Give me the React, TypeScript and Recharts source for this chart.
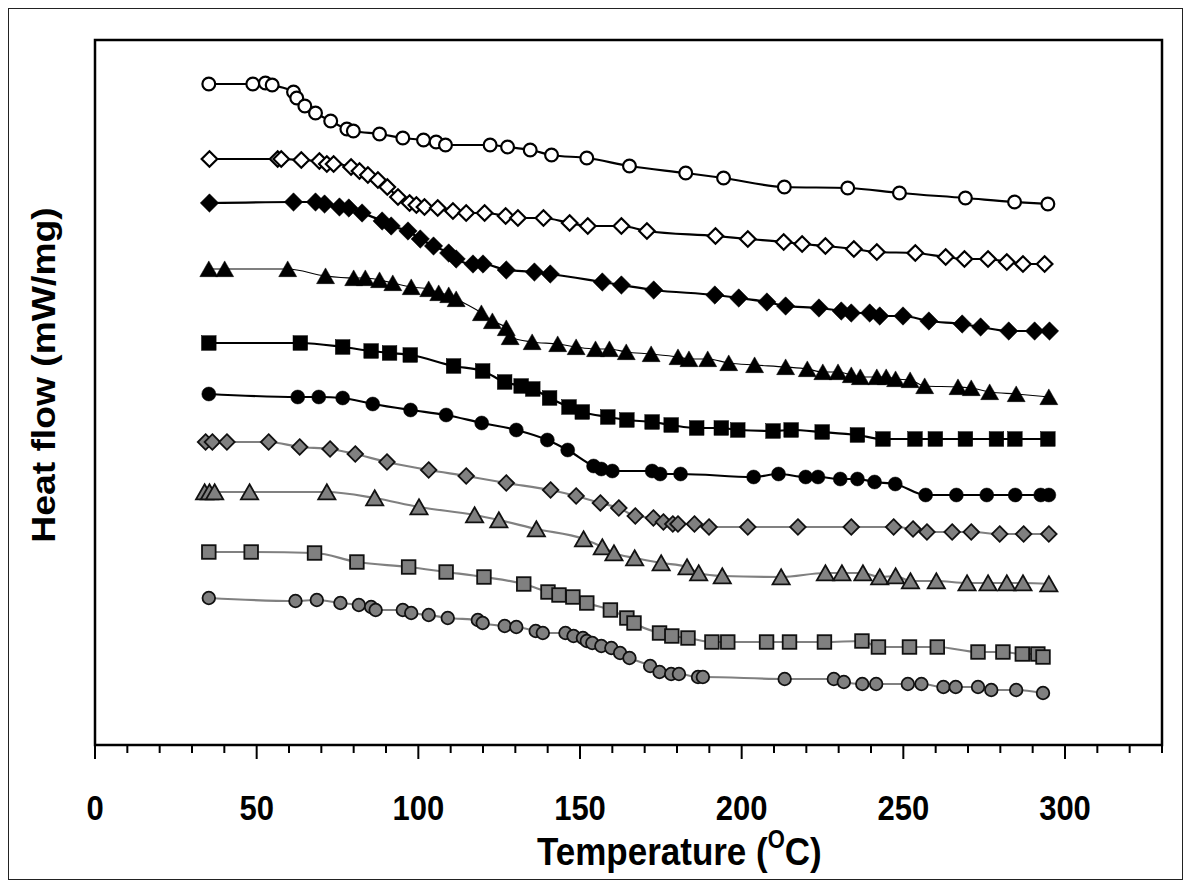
import React from 'react';
import { LineChart, Line, XAxis, YAxis, ReferenceArea } from 'recharts';

// temperature (°C), heat flow (mW/mg, arbitrary offset scale)
const openCircles = [
	[35.2, 6.61], [48.8, 6.61], [52.7, 6.62], [54.8, 6.6], [61.4, 6.53], [62.4, 6.47], [64.9, 6.39],
	[68.2, 6.32], [72.9, 6.24], [77.9, 6.16], [79.9, 6.14], [88.0, 6.11], [95.2, 6.07], [101.6, 6.05],
	[105.5, 6.03], [108.4, 6.0], [122.2, 6.0], [127.6, 5.98], [134.6, 5.95], [141.2, 5.9], [152.1, 5.87],
	[165.3, 5.79], [182.7, 5.72], [194.4, 5.67], [213.2, 5.58], [232.8, 5.57], [248.8, 5.52], [269.2, 5.47],
	[284.4, 5.43], [294.7, 5.41],
];
const openDiamonds = [
	[35.4, 5.86], [56.5, 5.86], [57.6, 5.86], [63.8, 5.85], [69.4, 5.84], [71.7, 5.81], [73.8, 5.81],
	[79.2, 5.78], [81.8, 5.74], [84.4, 5.7], [87.5, 5.65], [90.4, 5.58], [93.7, 5.48], [97.3, 5.42],
	[99.4, 5.4], [101.9, 5.38], [106.0, 5.37], [110.7, 5.34], [114.8, 5.32], [120.5, 5.32], [127.0, 5.29],
	[130.8, 5.27], [138.7, 5.27], [146.8, 5.22], [152.4, 5.19], [162.8, 5.19], [170.7, 5.14], [191.9, 5.09],
	[201.9, 5.06], [213.0, 5.03], [218.7, 5.01], [225.9, 4.99], [234.7, 4.96], [241.8, 4.93], [253.7, 4.92],
	[263.1, 4.88], [268.9, 4.86], [276.2, 4.86], [282.0, 4.83], [287.0, 4.81], [293.7, 4.81],
];
const solidDiamonds = [
	[35.4, 5.42], [61.4, 5.43], [68.2, 5.43], [71.0, 5.41], [75.6, 5.38], [78.5, 5.37], [82.6, 5.32],
	[88.8, 5.24], [91.6, 5.19], [96.8, 5.14], [100.6, 5.06], [104.7, 4.99], [109.4, 4.92], [111.7, 4.86],
	[116.9, 4.81], [120.0, 4.81], [127.2, 4.75], [135.9, 4.73], [140.8, 4.71], [156.9, 4.63], [162.8, 4.6],
	[172.8, 4.55], [191.7, 4.5], [199.1, 4.47], [207.8, 4.43], [213.6, 4.39], [223.9, 4.37], [230.8, 4.34],
	[233.9, 4.32], [239.6, 4.32], [242.7, 4.29], [249.9, 4.29], [257.9, 4.24], [268.2, 4.21], [273.9, 4.18],
	[282.6, 4.14], [290.6, 4.14], [295.2, 4.14],
];
const solidTriangles = [
	[35.2, 4.76], [40.1, 4.76], [59.6, 4.76], [71.3, 4.69], [80.0, 4.67], [83.6, 4.67], [88.0, 4.65],
	[92.1, 4.62], [97.8, 4.58], [103.2, 4.56], [106.3, 4.52], [109.4, 4.5], [111.7, 4.46], [119.5, 4.32],
	[122.9, 4.24], [127.2, 4.17], [128.4, 4.08], [135.2, 4.03], [143.1, 4.01], [148.8, 3.98], [154.8, 3.96],
	[159.1, 3.96], [164.3, 3.93], [172.0, 3.91], [180.3, 3.88], [183.7, 3.86], [189.5, 3.86], [196.0, 3.82],
	[204.0, 3.8], [213.6, 3.78], [220.3, 3.76], [225.1, 3.73], [229.8, 3.73], [233.9, 3.7], [236.7, 3.68],
	[241.8, 3.68], [244.7, 3.68], [247.6, 3.66], [252.1, 3.65], [256.6, 3.59], [266.9, 3.58], [271.0, 3.57],
	[276.7, 3.53], [284.9, 3.51], [295.0, 3.48],
];
const solidSquares = [
	[35.2, 4.02], [63.5, 4.02], [76.6, 3.98], [85.4, 3.94], [91.1, 3.92], [97.5, 3.9], [110.9, 3.79],
	[119.9, 3.74], [126.7, 3.63], [131.8, 3.59], [135.4, 3.56], [140.6, 3.47], [146.6, 3.38], [150.7, 3.33],
	[158.6, 3.28], [164.5, 3.25], [172.3, 3.23], [178.2, 3.2], [186.1, 3.17], [193.7, 3.17], [198.8, 3.15],
	[209.7, 3.14], [215.3, 3.15], [224.9, 3.13], [235.8, 3.1], [243.7, 3.06], [253.6, 3.06], [259.9, 3.06],
	[269.2, 3.06], [278.8, 3.06], [284.5, 3.06], [294.7, 3.06],
];
const solidCircles = [
	[35.2, 3.51], [62.7, 3.48], [69.2, 3.48], [76.6, 3.47], [85.9, 3.41], [97.6, 3.35], [108.6, 3.3],
	[119.6, 3.22], [130.3, 3.15], [139.9, 3.05], [146.2, 2.95], [154.2, 2.79], [156.6, 2.76], [160.0, 2.74],
	[172.3, 2.74], [174.8, 2.71], [181.1, 2.71], [203.7, 2.68], [211.4, 2.71], [219.8, 2.68], [223.6, 2.68],
	[230.5, 2.66], [235.8, 2.66], [241.1, 2.63], [247.5, 2.61], [256.9, 2.5], [266.4, 2.5], [275.8, 2.5],
	[284.6, 2.5], [292.5, 2.5], [295.0, 2.5],
];
const greyDiamonds = [
	[34.2, 3.03], [36.3, 3.03], [40.8, 3.03], [53.7, 3.03], [63.3, 2.98], [72.7, 2.96], [80.5, 2.91],
	[90.3, 2.83], [103.2, 2.75], [114.8, 2.69], [127.2, 2.62], [140.9, 2.55], [148.8, 2.49], [156.3, 2.42],
	[162.0, 2.37], [167.1, 2.29], [172.7, 2.27], [175.8, 2.23], [178.7, 2.21], [180.3, 2.21], [185.4, 2.21],
	[189.9, 2.18], [201.9, 2.18], [217.4, 2.18], [233.9, 2.18], [247.0, 2.18], [253.0, 2.16], [257.3, 2.13],
	[265.1, 2.13], [271.0, 2.13], [279.8, 2.11], [287.2, 2.11], [295.0, 2.11],
];
const greyTriangles = [
	[33.9, 2.53], [35.4, 2.53], [37.0, 2.53], [47.8, 2.53], [71.7, 2.53], [86.5, 2.47], [100.2, 2.38],
	[117.4, 2.3], [124.9, 2.25], [136.5, 2.16], [151.1, 2.06], [156.9, 1.98], [160.5, 1.92], [166.9, 1.87],
	[175.1, 1.82], [183.1, 1.78], [186.7, 1.72], [194.0, 1.69], [212.2, 1.68], [225.9, 1.72], [231.0, 1.72],
	[237.5, 1.72], [242.7, 1.68], [247.6, 1.69], [252.2, 1.64], [260.2, 1.64], [269.7, 1.62], [276.2, 1.62],
	[282.0, 1.62], [287.0, 1.62], [295.0, 1.61],
];
const greySquares = [
	[35.2, 1.93], [48.3, 1.93], [67.9, 1.92], [81.0, 1.83], [97.0, 1.78], [108.6, 1.73], [120.3, 1.68],
	[132.6, 1.61], [140.1, 1.53], [143.5, 1.5], [147.8, 1.48], [152.1, 1.42], [159.4, 1.35], [164.5, 1.27],
	[166.7, 1.22], [174.6, 1.12], [178.4, 1.09], [183.4, 1.07], [190.8, 1.03], [195.7, 1.03], [207.7, 1.03],
	[214.8, 1.03], [225.6, 1.03], [237.2, 1.04], [242.3, 0.98], [251.9, 0.98], [260.5, 0.98], [273.1, 0.93],
	[280.8, 0.93], [286.8, 0.91], [291.6, 0.91], [293.2, 0.88],
];
const greyCircles = [
	[35.2, 1.47], [62.0, 1.44], [68.6, 1.45], [75.9, 1.42], [81.6, 1.4], [85.4, 1.38], [86.8, 1.35],
	[95.2, 1.35], [97.8, 1.32], [103.2, 1.3], [109.1, 1.27], [118.4, 1.25], [119.9, 1.22], [126.7, 1.19],
	[130.3, 1.18], [136.3, 1.14], [138.5, 1.12], [145.5, 1.12], [148.0, 1.09], [150.9, 1.07], [152.1, 1.04],
	[153.8, 1.02], [156.6, 0.99], [159.7, 0.97], [162.4, 0.92], [165.3, 0.87], [171.7, 0.79], [174.6, 0.73],
	[178.2, 0.71], [180.6, 0.71], [186.5, 0.68], [188.0, 0.68], [213.3, 0.66], [228.5, 0.66], [231.6, 0.63],
	[237.3, 0.61], [241.6, 0.61], [251.4, 0.61], [255.6, 0.61], [262.4, 0.58], [266.2, 0.58], [273.1, 0.58],
	[277.2, 0.55], [284.9, 0.55], [293.2, 0.52],
];

const xTicks = [0, 10, 20, 30, 40, 50, 60, 70, 80, 90, 100, 110, 120, 130, 140, 150, 160, 170, 180, 190,
	200, 210, 220, 230, 240, 250, 260, 270, 280, 290, 300, 310, 320, 330];
const xLabels = [0, 50, 100, 150, 200, 250, 300];

const FONT = '"Liberation Sans", Arial, Helvetica, sans-serif';
const GREY = '#808080';

type Mark = {
	id: string;
	shape: 'circle' | 'square' | 'diamond' | 'triangle';
	size: number;
	fill: string;
	stroke: string;
	sw: number;
};

const series: { id: string; pts: number[][]; line: string; lw: number; mark: Mark }[] = [
	{ id: 'oc', pts: openCircles, line: '#000', lw: 2.2, mark: { id: 'oc', shape: 'circle', size: 6.4, fill: '#fff', stroke: '#000', sw: 2.2 } },
	{ id: 'od', pts: openDiamonds, line: '#000', lw: 2.2, mark: { id: 'od', shape: 'diamond', size: 7.8, fill: '#fff', stroke: '#000', sw: 2.2 } },
	{ id: 'sd', pts: solidDiamonds, line: '#000', lw: 2.2, mark: { id: 'sd', shape: 'diamond', size: 9.2, fill: '#000', stroke: '#000', sw: 0.5 } },
	{ id: 'st', pts: solidTriangles, line: '#000', lw: 1.1, mark: { id: 'st', shape: 'triangle', size: 9, fill: '#000', stroke: '#000', sw: 0.5 } },
	{ id: 'ss', pts: solidSquares, line: '#000', lw: 2.2, mark: { id: 'ss', shape: 'square', size: 7.3, fill: '#000', stroke: '#000', sw: 0.5 } },
	{ id: 'sc', pts: solidCircles, line: '#000', lw: 2.2, mark: { id: 'sc', shape: 'circle', size: 7, fill: '#000', stroke: '#000', sw: 0.5 } },
	{ id: 'gd', pts: greyDiamonds, line: GREY, lw: 2.2, mark: { id: 'gd', shape: 'diamond', size: 7.8, fill: GREY, stroke: '#111', sw: 1.8 } },
	{ id: 'gt', pts: greyTriangles, line: GREY, lw: 2.2, mark: { id: 'gt', shape: 'triangle', size: 8.6, fill: GREY, stroke: '#111', sw: 1.8 } },
	{ id: 'gs', pts: greySquares, line: GREY, lw: 2.2, mark: { id: 'gs', shape: 'square', size: 6.8, fill: GREY, stroke: '#111', sw: 1.8 } },
	{ id: 'gc', pts: greyCircles, line: GREY, lw: 2.2, mark: { id: 'gc', shape: 'circle', size: 6.3, fill: GREY, stroke: '#111', sw: 1.8 } },
];

const Marker = ({ cx, cy, m }: { cx: number; cy: number; m: Mark }) => {
	const h = m.size;
	const common = { fill: m.fill, stroke: m.stroke, strokeWidth: m.sw };
	if (m.shape === 'circle') return <circle cx={cx} cy={cy} r={h} {...common} />;
	if (m.shape === 'square') return <rect x={cx - h} y={cy - h} width={2 * h} height={2 * h} {...common} />;
	if (m.shape === 'diamond')
		return <polygon points={`${cx},${cy - h} ${cx + h},${cy} ${cx},${cy + h} ${cx - h},${cy}`} {...common} />;
	return (
		<polygon
			points={`${cx},${cy - h * 0.9} ${cx + h},${cy + h * 0.85} ${cx - h},${cy + h * 0.85}`}
			{...common}
		/>
	);
};

const makeDot = (m: Mark) => (p: any) => {
	if (p.cx == null || p.cy == null) return <g key={`${m.id}-${p.index}`} />;
	return <Marker key={`${m.id}-${p.index}`} cx={p.cx} cy={p.cy} m={m} />;
};

const TempTick = (props: any) => {
	const { x, y, payload } = props;
	const major = xLabels.includes(payload.value);
	return (
		<g>
			<line x1={x} y1={y} x2={x} y2={y + (major ? 14 : 8)} stroke='#000' strokeWidth={2} />
			{major && (
				<text
					transform={`translate(${x},${y + 75}) scale(1,1.13)`}
					textAnchor='middle'
					fontSize={31}
					fontWeight='bold'
					fontFamily={FONT}
					fill='#000'
				>
					{payload.value}
				</text>
			)}
		</g>
	);
};

// both axis titles, placed from the x axis box
const AxisTitles = (props: any) => {
	const { x, y } = props.viewBox;
	return (
		<g>
			<text
				transform={`translate(${x + 442},${y + 120}) scale(1,1.13)`}
				fontSize={35}
				fontWeight='bold'
				fontFamily={FONT}
				fill='#000'
			>
				Temperature (
				<tspan fontSize={22} dy={-15}>
					O
				</tspan>
				<tspan dy={15}>C)</tspan>
			</text>
			<text
				transform={`translate(${x - 40},${y - 370}) rotate(-90) scale(1.13,1)`}
				textAnchor='middle'
				fontSize={33}
				fontWeight='bold'
				fontFamily={FONT}
				fill='#000'
			>
				Heat flow (mW/mg)
			</text>
		</g>
	);
};

export default function App() {
	return (
		<div
			style={{
				width: 1175,
				height: 872,
				border: '1px solid #222',
				boxSizing: 'border-box',
				background: '#fff',
			}}
		>
			<LineChart width={1173} height={870} margin={{ top: 31, right: 20, left: 86, bottom: 0 }}>
				<XAxis
					dataKey='t'
					type='number'
					domain={[0, 330]}
					ticks={xTicks}
					interval={0}
					height={134}
					tickSize={0}
					tickMargin={0}
					tickLine={false}
					axisLine={false}
					tick={<TempTick />}
					label={{ content: (p: any) => <AxisTitles {...p} /> }}
				/>
				<YAxis type='number' domain={[0, 7.05]} width={0} tick={false} tickLine={false} axisLine={false} />
				<ReferenceArea x1={0} x2={330} y1={0} y2={7.05} fill='none' fillOpacity={0} stroke='#000' strokeWidth={2.5} />
				{series.map((s) => (
					<Line
						key={s.id}
						data={s.pts.map(([t, hf]) => ({ t, hf }))}
						dataKey='hf'
						type='monotone'
						stroke={s.line}
						strokeWidth={s.lw}
						dot={makeDot(s.mark)}
						activeDot={false}
						isAnimationActive={false}
					/>
				))}
			</LineChart>
		</div>
	);
}
